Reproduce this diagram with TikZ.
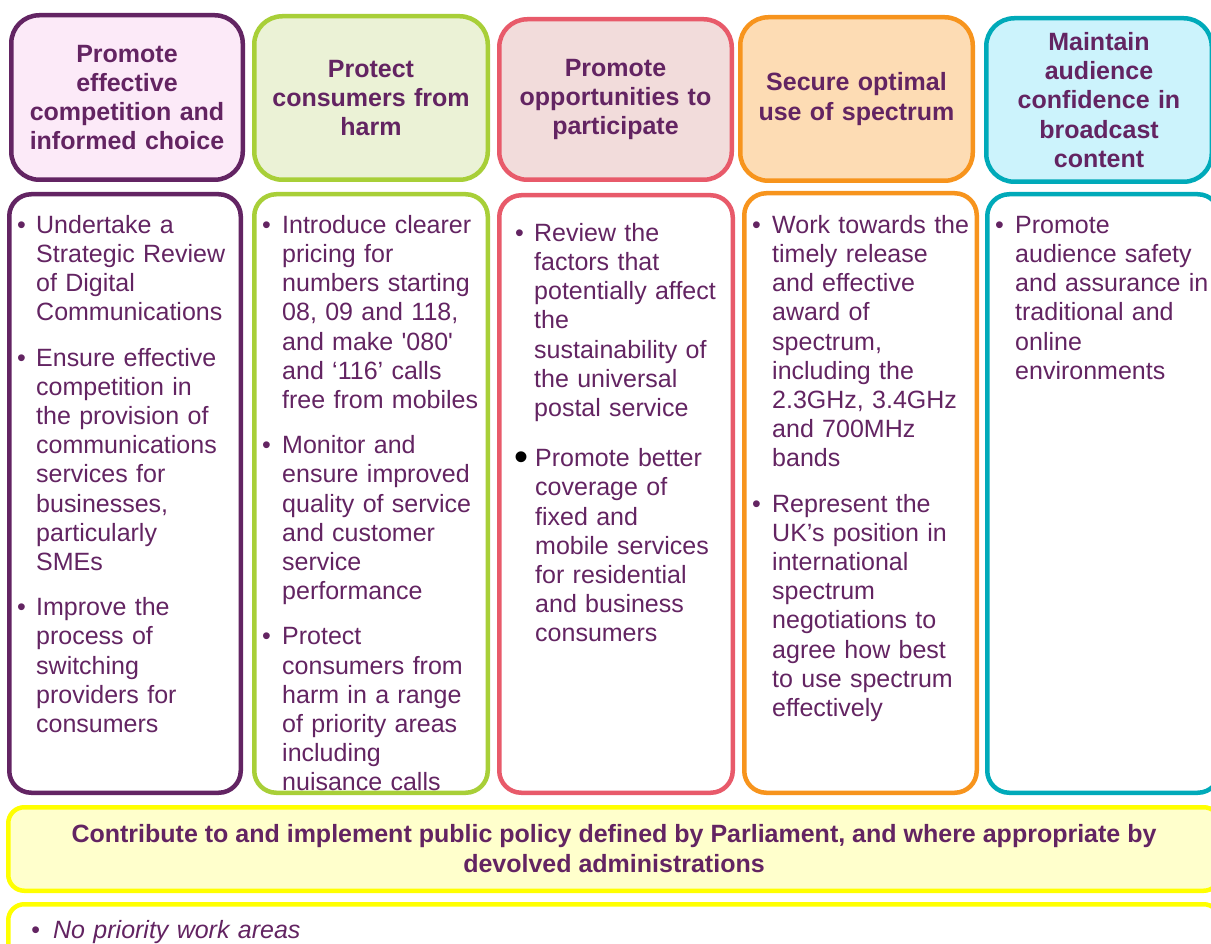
\documentclass[tikz,border=0pt]{standalone}
\usepackage{fontspec}
\usepackage{graphicx}
\setmainfont{Liberation Sans}
\newfontfamily\plainsans{Liberation Sans}
\definecolor{txt}{RGB}{99,36,98}
\definecolor{cA}{RGB}{99,36,99}   \definecolor{fA}{RGB}{252,234,248}
\definecolor{cB}{RGB}{168,207,56} \definecolor{fB}{RGB}{235,242,214}
\definecolor{cC}{RGB}{232,90,106} \definecolor{fC}{RGB}{242,220,219}
\definecolor{cD}{RGB}{247,148,29} \definecolor{fD}{RGB}{253,220,180}
\definecolor{cE}{RGB}{0,170,185}  \definecolor{fE}{RGB}{204,243,252}
\definecolor{cY}{RGB}{255,255,0}  \definecolor{fY}{RGB}{255,255,204}
\newcommand\bitem[2][19.5pt]{\par\hangindent=#1\hangafter=1\noindent\makebox[#1][l]{\textbullet}#2\par}
\newcommand\bitemblk[2][19.5pt]{\par\hangindent=#1\hangafter=1\noindent\makebox[#1][l]{\hspace*{-1pt}\raisebox{-4pt}{\scalebox{1.6}{\color{black}\textbullet}}}#2\par}
\newcommand\fs{\rule{0pt}{21pt}}
\newcommand\gap[1][16pt]{\vspace{#1}}
\newcommand\nl{\newline}
\newcommand\sq{{\plainsans\char"0027}}
\tikzset{
  head/.style n args={2}{draw=#1, fill=#2, line width=4.5pt, rounded corners=28pt,
    rectangle, inner sep=0pt, align=center, text width=215pt, text=txt,
    font=\fontsize{25}{29.3}\selectfont\bfseries},
  body/.style={draw=#1, fill=white, line width=4.5pt, rounded corners=22pt, rectangle, inner sep=0pt},
  ybox/.style={draw=cY, fill=#1, line width=4.5pt, rounded corners=16pt, rectangle, inner sep=0pt},
  btext/.style={anchor=north west, inner sep=0pt, text width=225pt, text=txt,
    font=\fontsize{25}{29.2}\selectfont},
}
\begin{document}
\begin{tikzpicture}[x=1pt,y=-1pt]
\useasboundingbox (0,0) rectangle (1211,944);
\clip (0,0) rectangle (1211,944);
\fill[white] (0,0) rectangle (1211,944);
% header boxes
\node[head={cA}{fA}, minimum width=231.5pt, minimum height=164.5pt] (hA) at (127,97.5)
  {Promote\\effective\\competition and\\informed choice};
\node[head={cB}{fB}, minimum width=233.5pt, minimum height=163.5pt] (hB) at (371,98)
  {Protect\\consumers from\\harm};
\node[head={cC}{fC}, minimum width=232.5pt, minimum height=160.5pt] (hC) at (615.5,99.5)
  {Promote\\opportunities to\\participate};
\node[head={cD}{fD}, minimum width=232.5pt, minimum height=163.5pt] (hD) at (856.5,99)
  {Secure optimal\\use of spectrum};
\node[head={cE}{fE}, minimum width=225.5pt, minimum height=163.5pt] (hE) at (1099,100)
  {Maintain\\audience\\confidence in\\broadcast\\content};
% body boxes
\node[body=cA, minimum width=231.5pt, minimum height=598.5pt] (bA) at (125,493.5) {};
\node[body=cB, minimum width=233.5pt, minimum height=598.5pt] (bB) at (371,493.5) {};
\node[body=cC, minimum width=233.5pt, minimum height=597.5pt] (bC) at (616,494) {};
\node[body=cD, minimum width=232.5pt, minimum height=599.5pt] (bD) at (860.5,493) {};
\node[body=cE, minimum width=232.5pt, minimum height=598.5pt] (bE) at (1103.5,493.5) {};
% body texts
\node[btext] (tA) at (17,204) {%
\bitem[19pt]{\fs Undertake a\nl Strategic Review\nl of Digital\nl Communications}\gap
\bitem[19pt]{Ensure effective\nl competition in\nl the provision of\nl communications\nl services for\nl businesses,\nl particularly\nl SMEs}\gap
\bitem[19pt]{Improve the\nl process of\nl switching\nl providers for\nl consumers}};
\node[btext] (tB) at (262,204) {%
\bitem[20pt]{\fs Introduce clearer\nl pricing for\nl numbers starting\nl 08, 09 and 118,\nl and make \sq080\sq\nl and ‘116’ calls\nl free from mobiles}\gap
\bitem[20pt]{Monitor and\nl ensure improved\nl quality of service\nl and customer\nl service\nl performance}\gap
\bitem[20pt]{Protect\nl consumers from\nl harm in a range\nl of priority areas\nl including\nl nuisance calls}};
\node[btext] (tC) at (515,212) {%
\bitem[19pt]{\fs Review the\nl factors that\nl potentially affect\nl the\nl sustainability of\nl the universal\nl postal service}\gap[21pt]
\bitemblk[20pt]{Promote better\nl coverage of\nl fixed and\nl mobile services\nl for residential\nl and business\nl consumers}};
\node[btext] (tD) at (752,204) {%
\bitem[20pt]{\fs Work towards the\nl timely release\nl and effective\nl award of\nl spectrum,\nl including the\nl 2.3GHz, 3.4GHz\nl and 700MHz\nl bands}\gap
\bitem[20pt]{Represent the\nl UK’s position in\nl international\nl spectrum\nl negotiations to\nl agree how best\nl to use spectrum\nl effectively}};
\node[btext] (tE) at (995,204) {%
\bitem[20pt]{\fs Promote\nl audience safety\nl and assurance in\nl traditional and\nl online\nl environments}};
% yellow boxes
\node[ybox=fY, minimum width=1211.5pt, minimum height=83.5pt, align=center, text=txt,
  font=\fontsize{25}{30}\selectfont\bfseries] (yA) at (614,849)
  {Contribute to and implement public policy defined by Parliament, and where appropriate by\\devolved administrations};
\node[ybox=white, minimum width=1211.5pt, minimum height=83.5pt] (yB) at (614,946) {};
\node[btext, text width=400pt, font=\fontsize{25}{29.2}\selectfont\itshape] (tY) at (31,909)
  {\bitem[22pt]{\fs No priority work areas}};
\end{tikzpicture}
\end{document}
